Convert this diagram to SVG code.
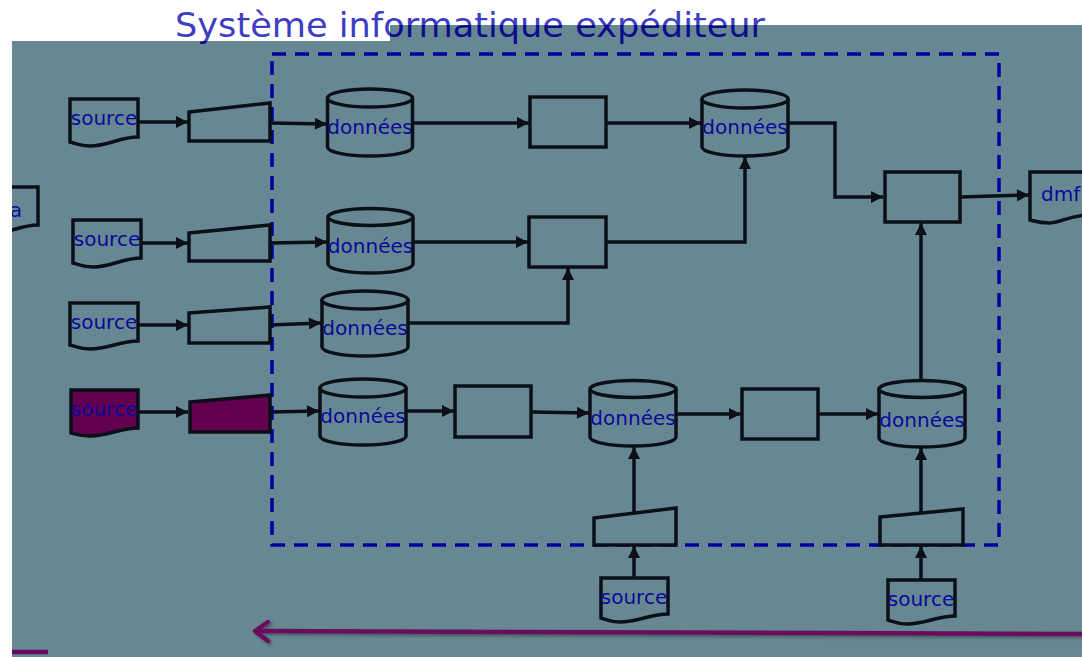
<svg xmlns="http://www.w3.org/2000/svg" width="1082" height="657" viewBox="0 0 1082 657">
<style>
.sh{fill:#678893;stroke:#0b0f18;stroke-width:3.5;stroke-linejoin:miter}
.pu{fill:#63004f;stroke:#0b0f18;stroke-width:3.5}
.lbl{font-family:"DejaVu Sans",Verdana,sans-serif;font-size:20px;fill:#0a0a9a;text-anchor:middle}
.cn{fill:none;stroke:#0b0f18;stroke-width:3.5}
.ttl{font-family:"DejaVu Sans",Verdana,sans-serif;font-size:34px}
</style>
<defs>
<marker id="ah" viewBox="0 0 10 10" refX="10" refY="5" markerWidth="14" markerHeight="12" markerUnits="userSpaceOnUse" orient="auto"><path d="M0,0 L10,5 L0,10 z" fill="#0b0f18"/></marker>
<clipPath id="inGray"><path d="M12,41 H390 V25 H1082 V657 H12 Z"/></clipPath>
<clipPath id="outGray"><path d="M0,0 H1082 V25 H390 V41 H0 Z"/></clipPath>
<filter id="shd" x="-5%" y="-50%" width="110%" height="200%"><feDropShadow dx="2" dy="2" stdDeviation="1.5" flood-color="#2a3a40" flood-opacity="0.6"/></filter>
</defs>
<rect width="1082" height="657" fill="#ffffff"/>
<path d="M12,41 H390 V25 H1082 V657 H12 Z" fill="#678893"/>
<g id="title">
<text class="ttl" x="175" y="37" textLength="590" lengthAdjust="spacingAndGlyphs" fill="#3d3dc4" clip-path="url(#outGray)">Système informatique expéditeur</text>
<text class="ttl" x="175" y="37" textLength="590" lengthAdjust="spacingAndGlyphs" fill="#0c0c8c" clip-path="url(#inGray)">Système informatique expéditeur</text>
</g>
<g id="boundary">
<rect x="272" y="54" width="727" height="491" fill="none" stroke="#0000a0" stroke-width="3.5" stroke-dasharray="14,9"/>
</g>
<g id="connectors">
<line class="cn" x1="138" y1="122" x2="188" y2="122" marker-end="url(#ah)"/>
<line class="cn" x1="270" y1="123" x2="327" y2="124" marker-end="url(#ah)"/>
<line class="cn" x1="141" y1="243" x2="188" y2="243" marker-end="url(#ah)"/>
<line class="cn" x1="270" y1="243" x2="327" y2="242" marker-end="url(#ah)"/>
<line class="cn" x1="138" y1="325" x2="188" y2="325" marker-end="url(#ah)"/>
<line class="cn" x1="270" y1="325" x2="321" y2="323" marker-end="url(#ah)"/>
<line class="cn" x1="138" y1="412" x2="188" y2="412" marker-end="url(#ah)"/>
<line class="cn" x1="270" y1="412" x2="319" y2="411" marker-end="url(#ah)"/>
<line class="cn" x1="413" y1="123" x2="529" y2="123" marker-end="url(#ah)"/>
<line class="cn" x1="606" y1="123" x2="701" y2="123" marker-end="url(#ah)"/>
<polyline class="cn" points="788,123 835,123 835,197 883,197" marker-end="url(#ah)"/>
<line class="cn" x1="960" y1="197" x2="1029" y2="195" marker-end="url(#ah)"/>
<line class="cn" x1="413" y1="242" x2="528" y2="242" marker-end="url(#ah)"/>
<polyline class="cn" points="606,242 745,242 745,157" marker-end="url(#ah)"/>
<polyline class="cn" points="408,323 568,323 568,268" marker-end="url(#ah)"/>
<line class="cn" x1="407" y1="411" x2="454" y2="411" marker-end="url(#ah)"/>
<line class="cn" x1="532" y1="412" x2="589" y2="413" marker-end="url(#ah)"/>
<line class="cn" x1="676" y1="414" x2="741" y2="414" marker-end="url(#ah)"/>
<line class="cn" x1="818" y1="414" x2="878" y2="414" marker-end="url(#ah)"/>
<line class="cn" x1="921" y1="380" x2="921" y2="223" marker-end="url(#ah)"/>
<line class="cn" x1="634" y1="513" x2="634" y2="447" marker-end="url(#ah)"/>
<line class="cn" x1="921" y1="513" x2="921" y2="448" marker-end="url(#ah)"/>
<line class="cn" x1="634" y1="578" x2="634" y2="546" marker-end="url(#ah)"/>
<line class="cn" x1="921" y1="580" x2="921" y2="546" marker-end="url(#ah)"/>
<g filter="url(#shd)" stroke="#6a0a5e" stroke-width="4.5" fill="none" stroke-linecap="round" stroke-linejoin="round">
<line x1="1082" y1="634" x2="256" y2="631"/>
<polyline points="268,622 255,631 268,641"/>
</g>
<line x1="12" y1="652" x2="48" y2="652" stroke="#6a0a5e" stroke-width="4.5"/>
</g>
<g id="src1"><path class="sh" d="M70,99 H138 V137 C120,137 108,146 90,146 C80,146 75,143 70,142 Z"/><text class="lbl" x="104" y="125">source</text></g>
<g id="src2"><path class="sh" d="M73,220 H141 V258 C123,258 111,267 93,267 C83,267 78,264 73,263 Z"/><text class="lbl" x="107" y="246">source</text></g>
<g id="src3"><path class="sh" d="M70,303 H138 V341 C120,341 108,349 90,349 C80,349 75,346 70,345 Z"/><text class="lbl" x="104" y="329">source</text></g>
<g id="src4"><path class="pu" d="M71,390 H138 V428 C120,428 108,436 90,436 C80,436 75,434 71,433 Z"/><text class="lbl" x="104" y="416">source</text></g>
<g id="srcLeft" clip-path="url(#inGray)"><path class="sh" d="M-30,187 H38 V225 C20,225 8,234 -10,234 Z"/><text class="lbl" x="16" y="217">a</text></g>
<g id="src5"><path class="sh" d="M601,578 H668 V614 C650,614 638,622 620,622 C610,622 605,619 601,618 Z"/><text class="lbl" x="634" y="604">source</text></g>
<g id="src6"><path class="sh" d="M888,580 H955 V616 C937,616 925,624 907,624 C897,624 892,621 888,620 Z"/><text class="lbl" x="921" y="606">source</text></g>
<g id="dmf"><path class="sh" d="M1030,172 H1090 V215 C1070,215 1060,223 1049,223 C1040,223 1034,221 1030,220 Z"/><text class="lbl" x="1041" y="201" style="text-anchor:start">dmf</text></g>
<g id="in1"><path class="sh" d="M189,112 L270,103 V141 H189 Z"/></g>
<g id="in2"><path class="sh" d="M189,233 L270,225 V261 H189 Z"/></g>
<g id="in3"><path class="sh" d="M189,313 L270,307 V343 H189 Z"/></g>
<g id="in4"><path class="pu" d="M190,402 L270,395 V432 H190 Z"/></g>
<g id="in5"><path class="sh" d="M594,518 L676,508 V545 H594 Z"/></g>
<g id="in6"><path class="sh" d="M880,517 L963,509 V545 H880 Z"/></g>
<g id="db1"><path class="sh" d="M327.5,98 V147 A42.5,9 0 0 0 412.5,147 V98"/><ellipse class="sh" cx="370" cy="98" rx="42.5" ry="9"/><text class="lbl" x="370" y="134">données</text></g>
<g id="db2"><path class="sh" d="M702,99 V147 A43,9 0 0 0 788,147 V99"/><ellipse class="sh" cx="745" cy="99" rx="43" ry="9"/><text class="lbl" x="745" y="134">données</text></g>
<g id="db3"><path class="sh" d="M328,217 V264 A42.5,9 0 0 0 413,264 V217"/><ellipse class="sh" cx="370.5" cy="217" rx="42.5" ry="8.5"/><text class="lbl" x="370.5" y="253">données</text></g>
<g id="db4"><path class="sh" d="M322,300 V347 A43,9 0 0 0 408,347 V300"/><ellipse class="sh" cx="365" cy="300" rx="43" ry="9"/><text class="lbl" x="365" y="335">données</text></g>
<g id="db5"><path class="sh" d="M320,388 V436 A43,9 0 0 0 406,436 V388"/><ellipse class="sh" cx="363" cy="388" rx="43" ry="9"/><text class="lbl" x="363" y="423">données</text></g>
<g id="db6"><path class="sh" d="M590,389 V437 A43,9 0 0 0 676,437 V389"/><ellipse class="sh" cx="633" cy="389" rx="43" ry="8.5"/><text class="lbl" x="633" y="425">données</text></g>
<g id="db7"><path class="sh" d="M879,389 V438 A43,9 0 0 0 965,438 V389"/><ellipse class="sh" cx="922" cy="389" rx="43" ry="8.5"/><text class="lbl" x="922" y="427">données</text></g>
<g id="p1"><rect class="sh" x="530" y="97" width="76" height="50"/></g>
<g id="p2"><rect class="sh" x="529" y="217" width="77" height="50"/></g>
<g id="p3"><rect class="sh" x="455" y="386" width="76" height="51"/></g>
<g id="p4"><rect class="sh" x="742" y="389" width="76" height="50"/></g>
<g id="p5"><rect class="sh" x="885" y="172" width="75" height="50"/></g>
</svg>
